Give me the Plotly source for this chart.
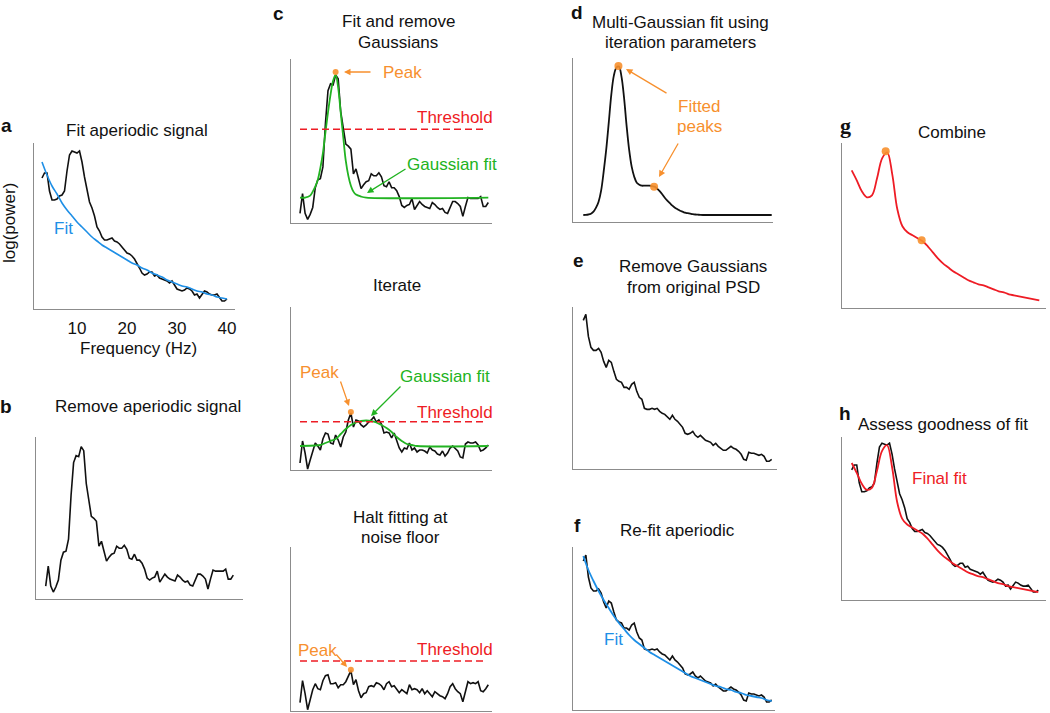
import plotly.graph_objects as go

W, H = 1050, 713

# ---------------- data ----------------
# noisy spectra on a 0.5 Hz grid
freqs = [3.0, 3.5, 4.0, 4.5, 5.0, 5.5, 6.0, 6.5, 7.0, 7.5,
         8.0, 8.5, 9.0, 9.5, 10.0, 10.5, 11.0, 11.5, 12.0, 12.5,
         13.0, 13.5, 14.0, 14.5, 15.0, 15.5, 16.0, 16.5, 17.0, 17.5,
         18.0, 18.5, 19.0, 19.5, 20.0, 20.5, 21.0, 21.5, 22.0, 22.5,
         23.0, 23.5, 24.0, 24.5, 25.0, 25.5, 26.0, 26.5, 27.0, 27.5,
         28.0, 28.5, 29.0, 29.5, 30.0, 30.5, 31.0, 31.5, 32.0, 32.5,
         33.0, 33.5, 34.0, 34.5, 35.0, 35.5, 36.0, 36.5, 37.0, 37.5,
         38.0, 38.5, 39.0, 39.5, 40.0]

# original power spectrum (panels a, h)
psd = [131, 136, 136, 118, 109, 109, 110, 113, 114, 118,
       138, 154, 158, 157, 156, 158, 147, 132, 120, 107,
       101, 93, 82, 78, 72, 69, 69, 70, 71, 68,
       67, 65, 62, 60, 56, 55, 53, 50, 46, 41,
       36, 34, 35, 37, 37, 33, 34, 31, 30, 29,
       28, 26, 28, 24, 20, 19, 18, 19, 21, 20,
       18, 14, 15, 11, 15, 18, 17, 15, 14, 14,
       15, 11, 8, 8, 10]

# flattened spectrum (panels b, c-top)
flat = [13, 33, 13, 7, 12, 19, 39, 47, 48, 60,
        104, 137, 144, 143, 153, 149, 116, 100, 83, 81,
        78, 53, 58, 48, 38, 42, 45, 46, 53, 51,
        51, 54, 50, 41, 40, 45, 39, 39, 36, 30,
        21, 19, 21, 22, 28, 17, 21, 25, 22, 20,
        19, 18, 24, 22, 19, 17, 18, 14, 13, 19,
        25, 25, 23, 20, 10, 20, 29, 28, 28, 28,
        28, 30, 20, 20, 24]

# residual after first Gaussian (c-middle)
resid1 = [7, 29, 17, 1, 10, 20, 27, 24, 20, 31,
          37, 36, 27, 26, 35, 30, 23, 33, 38, 50,
          57, 43, 50, 49, 45, 43, 45, 48, 50, 53,
          48, 50, 46, 37, 38, 37, 32, 37, 30, 22,
          18, 22, 21, 27, 20, 22, 18, 20, 20, 19,
          17, 23, 20, 19, 16, 15, 19, 14, 17, 22,
          24, 21, 19, 13, 12, 26, 28, 27, 27, 28,
          25, 19, 20, 22, 25]

# residual after second Gaussian (c-bottom)
resid2 = [8, 30, 17, 1, 11, 21, 27, 22, 21, 30,
          35, 36, 27, 27, 28, 23, 26, 26, 29, 34,
          40, 26, 31, 20, 13, 17, 18, 24, 25, 24,
          28, 27, 25, 21, 27, 29, 24, 25, 21, 18,
          21, 19, 17, 26, 21, 22, 21, 18, 22, 17,
          20, 17, 14, 19, 17, 15, 14, 12, 17, 24,
          27, 22, 19, 17, 9, 20, 29, 27, 28, 27,
          29, 20, 19, 22, 26]

# spectrum with Gaussians removed (panels e, f)
aper = [149, 155, 133, 122, 119, 119, 121, 117, 108, 102,
        109, 107, 98, 90, 88, 87, 82, 82, 80, 85,
        87, 78, 72, 70, 61, 60, 60, 61, 60, 61,
        58, 56, 55, 52, 50, 54, 50, 48, 45, 42,
        36, 35, 36, 38, 34, 32, 34, 31, 29, 28,
        27, 24, 26, 23, 21, 19, 19, 21, 23, 21,
        20, 18, 15, 10, 9, 17, 16, 16, 15, 14,
        15, 13, 8, 8, 10]

# multi-Gaussian fit (panel d)
peaks_fit = [6.7, 6.8, 7.2, 8, 10, 14, 20, 31, 50, 72,
             99, 127, 146, 154, 155, 145, 124, 96, 72, 55,
             45, 39, 37, 36, 36, 36, 36, 35.5, 35, 33,
             30.5, 27.5, 24, 21, 18.5, 16, 14, 12.5, 11, 10,
             9, 8.5, 8, 7.5, 7.2, 7, 6.8, 6.7, 6.7, 6.7,
             6.7, 6.7, 6.7, 6.7, 6.7, 6.7, 6.7, 6.7, 6.7, 6.7,
             6.7, 6.7, 6.7, 6.7, 6.7, 6.7, 6.7, 6.7, 6.7, 6.7,
             6.7, 6.7, 6.7, 6.7, 6.7]

# smooth curves on a 1 Hz grid
sfreqs = [3, 4, 5, 6, 7, 8, 9, 10, 11, 12,
          13, 14, 15, 16, 17, 18, 19, 20, 21, 22,
          23, 24, 25, 26, 27, 28, 29, 30, 31, 32,
          33, 34, 35, 36, 37, 38, 39, 40]
fit_a = [147, 134, 123, 115, 106, 99, 93, 87, 82, 77,
         72, 68, 64, 61, 58, 55, 52, 49, 46, 44,
         41, 39, 36, 34, 32, 29, 27, 25, 23, 22,
         20, 18, 17, 15, 14, 12, 11, 10]
fit_f = [154, 140, 129, 119, 110, 102, 94, 87, 81, 75,
         70, 66, 62, 58, 55, 52, 49, 46, 43, 40,
         37, 34, 32, 30, 28, 26, 24, 23, 21, 20,
         18, 17, 15, 14, 13, 12, 10, 9]
model = [138, 128, 117, 111, 113, 130, 150, 156, 134, 99,
         82, 76, 73, 70, 67, 62, 56, 50, 45, 41,
         37, 34, 31, 28, 26, 24, 23, 21, 19, 17,
         16, 14, 13, 12, 11, 10, 9, 8]

# single Gaussian fits (panel c)
g1_freqs = [3, 4, 5, 5.5, 6, 6.5, 7, 7.5, 8, 8.5, 9, 9.5, 10, 10.5,
            11, 11.5, 12, 12.5, 13, 13.5, 14, 15, 16, 40]
gauss1 = [29, 29, 31, 35, 40, 47, 59, 74, 95, 115, 133, 147, 153, 140,
          115, 90, 66, 51, 41, 35, 32, 30, 29, 29]
g2_freqs = [3, 6, 7, 8, 9, 10, 11, 12, 13, 14, 15, 16, 17, 18, 19, 20,
            21, 22, 23, 24, 25, 26, 40]
gauss2 = [24, 24.5, 25, 27, 29, 31, 36, 41, 45, 47.5, 49, 49.5, 49, 47.5,
          45, 42, 38, 33, 29, 26, 25, 24, 24]

# thresholds (c top / middle / bottom) and their extent
thresholds = [98, 48.3, 49.7]
thr_span = [3, 39]

# detected peaks
c_peak_freqs = [10.0, 13.0, 13.0]
c_peak_vals = [156, 58, 41]
d_peak_freqs = [9.9, 16.9]
d_peak_vals = [155.7, 35]
g_peak_freqs = [9.7, 16.8]
g_peak_vals = [157, 68]

x_ticks = [10, 20, 30, 40]

# ---------------- styling ----------------
FONT = "Liberation Sans, Arial, Helvetica, sans-serif"
BLACK = "#111111"
ORANGE = "#F7902E"
RED = "#EE1C25"
GREEN = "#22B322"
BLUE = "#1E8FE6"
AXIS = "#8C8C8C"


def span(left, right, c0, c1):
    f0, f1 = freqs[0], freqs[-1]
    s = (c1 - c0) / (f1 - f0)
    return [f0 - (c0 - left) / s, f1 + (right - c1) / s]


panels = {
    "a": dict(box=(34, 235, 143, 309), xr=[1.4, 41.6], yr=[0, 166]),
    "b": dict(box=(36, 243, 437, 599), xr=span(36, 243, 45.7, 233.3), yr=[0, 162.7]),
    "ct": dict(box=(290.7, 492, 59.3, 222.7), xr=span(290.7, 492, 300, 488.3), yr=[3.6, 168.8]),
    "cm": dict(box=(290.7, 492, 306.7, 470), xr=span(290.7, 492, 300, 488.3), yr=[0, 163.3]),
    "cb": dict(box=(290.7, 492, 546.7, 710.7), xr=span(290.7, 492, 300, 488.3), yr=[0, 164]),
    "d": dict(box=(573.3, 773, 58.3, 221.7), xr=span(573.3, 773, 583.3, 771.7), yr=[0, 163.3]),
    "e": dict(box=(573.3, 777, 306.7, 469.3), xr=span(573.3, 777, 583.3, 771.7), yr=[0, 162.7]),
    "f": dict(box=(573.3, 775, 546.7, 710), xr=span(573.3, 775, 583.3, 771.7), yr=[0, 163.3]),
    "g": dict(box=(841.7, 1046, 143.3, 308.3), xr=span(841.7, 1046, 851.7, 1039.3), yr=[0, 165]),
    "h": dict(box=(841.7, 1046, 436.7, 600), xr=span(841.7, 1046, 851.7, 1038.3), yr=[0, 164.5]),
}

layout = dict(
    width=W, height=H, margin=dict(l=0, r=0, t=0, b=0),
    paper_bgcolor="white", plot_bgcolor="white", showlegend=False,
    font=dict(family=FONT, size=17, color=BLACK),
)

ref = {}
for i, (key, p) in enumerate(panels.items(), start=1):
    sfx = "" if i == 1 else str(i)
    ref[key] = ("x" + sfx, "y" + sfx)
    l, r, t, b = p["box"]
    xa = dict(domain=[l / W, r / W], range=p["xr"], anchor="y" + sfx,
              showline=True, linecolor=AXIS, linewidth=1, showgrid=False,
              zeroline=False, showticklabels=False, ticks="", fixedrange=True)
    ya = dict(domain=[1 - b / H, 1 - t / H], range=p["yr"], anchor="x" + sfx,
              showline=True, linecolor=AXIS, linewidth=1, showgrid=False,
              zeroline=False, showticklabels=False, ticks="", fixedrange=True)
    if key == "a":
        xa.update(showticklabels=True, tickvals=x_ticks, ticks="outside",
                  ticklen=4, tickcolor="rgba(0,0,0,0)",
                  tickfont=dict(family=FONT, size=17, color=BLACK))
    layout["xaxis" + sfx] = xa
    layout["yaxis" + sfx] = ya

fig = go.Figure()


def line(panel, x, y, color, width=1.6, dash=None, shape="linear"):
    xr_, yr_ = ref[panel]
    fig.add_trace(go.Scatter(x=x, y=y, mode="lines", xaxis=xr_, yaxis=yr_,
                             line=dict(color=color, width=width, dash=dash, shape=shape),
                             hoverinfo="skip"))


def dots(panel, x, y, size=7):
    xr_, yr_ = ref[panel]
    fig.add_trace(go.Scatter(x=x, y=y, mode="markers", xaxis=xr_, yaxis=yr_,
                             marker=dict(color=ORANGE, size=size, opacity=0.9),
                             hoverinfo="skip"))


# a
line("a", freqs, psd, BLACK)
line("a", sfreqs, fit_a, BLUE, 1.6, shape="spline")
# b
line("b", freqs, flat, BLACK)
# c top
line("ct", freqs, flat, BLACK)
line("ct", g1_freqs, gauss1, GREEN, 1.8, shape="spline")
line("ct", thr_span, [thresholds[0]] * 2, RED, 1.5, dash="7px,4px")
dots("ct", c_peak_freqs[:1], c_peak_vals[:1], 6)
# c middle
line("cm", freqs, resid1, BLACK)
line("cm", g2_freqs, gauss2, GREEN, 1.8, shape="spline")
line("cm", thr_span, [thresholds[1]] * 2, RED, 1.5, dash="7px,4px")
dots("cm", c_peak_freqs[1:2], c_peak_vals[1:2], 6)
# c bottom
line("cb", freqs, resid2, BLACK)
line("cb", thr_span, [thresholds[2]] * 2, RED, 1.5, dash="7px,4px")
dots("cb", c_peak_freqs[2:], c_peak_vals[2:], 6)
# d
line("d", freqs, peaks_fit, BLACK, 1.8, shape="spline")
dots("d", d_peak_freqs, d_peak_vals, 8)
# e
line("e", freqs, aper, BLACK)
# f
line("f", freqs, aper, BLACK)
line("f", sfreqs, fit_f, BLUE, 1.8, shape="spline")
# g
line("g", sfreqs, model, RED, 1.8, shape="spline")
dots("g", g_peak_freqs, g_peak_vals, 8)
# h
line("h", freqs, psd, BLACK)
line("h", sfreqs, model, RED, 1.8, shape="spline")

# ---------------- text ----------------
ann = []


def P(x, y):
    return x / W, 1 - y / H


def text(s, x, y, color=BLACK, size=17, bold=False, family=FONT, angle=0):
    px_, py_ = P(x, y)
    ann.append(dict(text=("<b>%s</b>" % s) if bold else s, x=px_, y=py_,
                    xref="paper", yref="paper", xanchor="center", yanchor="middle",
                    showarrow=False, textangle=angle,
                    font=dict(family=family, size=size, color=color)))


def arrow(tail, tip, color):
    px_, py_ = P(*tip)
    ann.append(dict(text="", x=px_, y=py_, xref="paper", yref="paper",
                    ax=tail[0] - tip[0], ay=tail[1] - tip[1], showarrow=True,
                    arrowhead=2, arrowsize=1, arrowwidth=1.3, arrowcolor=color))


# panel letters
for s, x, y in [("a", 6, 125), ("b", 6, 407), ("c", 278, 13), ("d", 577, 12),
                ("e", 578, 260), ("f", 577, 525), ("h", 845, 413)]:
    text(s, x, y, size=19, bold=True)
text("g", 845, 126, size=22, bold=True, family="Liberation Serif, Times New Roman, serif")

# titles
text("Fit aperiodic signal", 137, 130)
text("Remove aperiodic signal", 148, 407)
text("Fit and remove", 398, 22)
text("Gaussians", 398, 42)
text("Iterate", 397, 285)
text("Halt fitting at", 400, 517)
text("noise floor", 400, 537)
text("Multi-Gaussian fit using", 680, 23)
text("iteration parameters", 680, 43)
text("Remove Gaussians", 693, 266)
text("from original PSD", 693, 287)
text("Re-fit aperiodic", 677, 530)
text("Combine", 952, 132)
text("Assess goodness of fit", 943, 424)

# axis labels panel a
text("Frequency (Hz)", 138, 348)
text("log(power)", 10, 223, angle=-90)

# labels and arrows
text("Fit", 63, 228, BLUE)
text("Peak", 402, 72, ORANGE)
arrow((372, 72), (344, 72), ORANGE)
text("Threshold", 455, 118, RED)
text("Gaussian fit", 452, 164, GREEN)
arrow((407, 168), (367, 193), GREEN)

text("Peak", 319, 372, ORANGE)
arrow((340, 380), (349, 406), ORANGE)
text("Gaussian fit", 445, 376, GREEN)
arrow((402, 385), (371, 416), GREEN)
text("Threshold", 455, 412, RED)

text("Peak", 317, 650, ORANGE)
arrow((335, 653), (347, 667), ORANGE)
text("Threshold", 455, 649, RED)

text("Fitted", 699, 107, ORANGE)
text("peaks", 699, 127, ORANGE)
arrow((668, 94), (626, 69), ORANGE)
arrow((679, 142), (659, 177), ORANGE)

text("Fit", 613, 639, BLUE)
text("Final fit", 939, 479, RED)

layout["annotations"] = ann
fig.update_layout(**layout)
fig.write_html("out.html",
               config={"displayModeBar": False, "staticPlot": True},
               post_script="document.body.style.margin='0px';"
                           "document.body.style.overflow='hidden';")
